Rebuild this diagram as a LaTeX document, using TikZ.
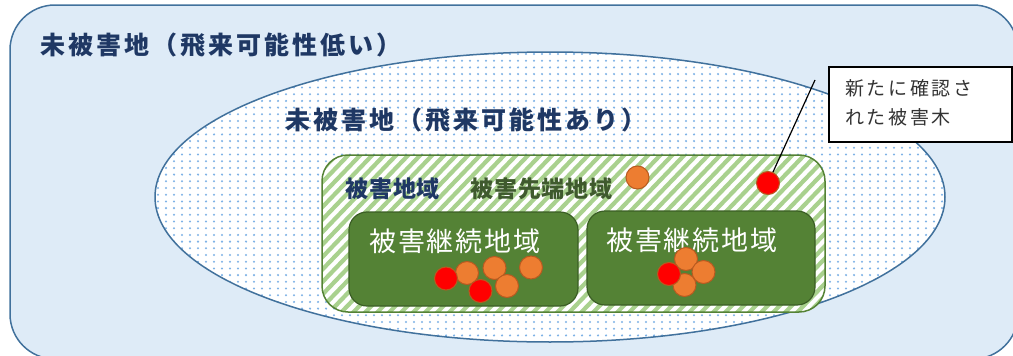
\documentclass[tikz,border=0pt]{standalone}
\usepackage{fontspec}
\newfontfamily\jp{Noto Sans CJK JP}
\definecolor{outerline}{HTML}{41719C}
\definecolor{outerfill}{HTML}{DEEBF7}
\definecolor{dotcol}{HTML}{7EB2E6}
\definecolor{greenline}{HTML}{548235}
\definecolor{hatchcol}{HTML}{A9D18E}
\definecolor{boxfill}{HTML}{548235}
\definecolor{boxline}{HTML}{3B5E25}
\definecolor{navy}{HTML}{1F3864}
\definecolor{darkgreen}{HTML}{3F5A2E}
\definecolor{dotorange}{HTML}{ED7D31}
\definecolor{dotred}{HTML}{FF0000}
\definecolor{dotedge}{HTML}{B85A20}
\definecolor{calltext}{HTML}{333333}
\tikzset{
  lbl/.style={inner sep=0pt, anchor=west, font=\jp},
  title/.style={lbl, font=\jp\bfseries\fontsize{25}{25}\selectfont\addfontfeature{LetterSpace=12}, text=navy},
  areabox/.style={draw=boxline, line width=1.2pt, fill=boxfill, rounded corners=18pt},
  areatext/.style={lbl, font=\jp\fontsize{27}{27}\selectfont\addfontfeature{LetterSpace=7}, text=white},
  calltxt/.style={lbl, font=\jp\fontsize{19}{19}\selectfont\addfontfeature{LetterSpace=14}, text=calltext},
  tree/.style={circle, inner sep=0pt, minimum size=23pt, draw=dotedge, line width=1pt},
  orangedot/.style={tree, fill=dotorange},
  reddot/.style={tree, fill=dotred},
}
\begin{document}
\begin{tikzpicture}[x=1pt,y=-1pt]
\useasboundingbox (0,0) rectangle (1013,356);
\clip (0,0) rectangle (1013,356);
% outer area
\draw[draw=outerline, line width=1.5pt, fill=outerfill, rounded corners=45pt] (10,5) rectangle (1018,359);
% ellipse area with dots
\fill[white] (550,197) ellipse [x radius=395, y radius=145];
\begin{scope}
  \clip (550,197) ellipse [x radius=395, y radius=145];
  \foreach \y in {54.0,60.7,...,345} {
    \fill[dotcol] \foreach \x in {158,166,...,946} {(\x,\y) circle (1.15)};
  }
\end{scope}
\draw[outerline, line width=1.5pt] (550,197) ellipse [x radius=395, y radius=145];
% damaged region (hatched)
\fill[white, rounded corners=26pt] (322,155) rectangle (825,312);
\begin{scope}
  \clip[rounded corners=26pt] (322,155) rectangle (825,312);
  \foreach \s in {0,12,...,672} {
    \draw[hatchcol, line width=4.2pt] (322-170+\s,322) -- (322+\s,145);
  }
\end{scope}
\draw[greenline, line width=1.5pt, rounded corners=26pt] (322,155) rectangle (825,312);
% inner boxes
\draw[areabox] (349,212) rectangle (578,306);
\draw[areabox] (587,211) rectangle (815,305);
% texts
\node[title] (t1) at (40,45) {未被害地（飛来可能性低い）};
\node[title] (t2) at (285,120) {未被害地（飛来可能性あり）};
\node[lbl, font=\jp\bfseries\fontsize{23}{23}\selectfont\addfontfeature{LetterSpace=4}, text=navy] (t3) at (345,189) {被害地域};
\node[lbl, font=\jp\bfseries\fontsize{23}{23}\selectfont\addfontfeature{LetterSpace=4}, text=darkgreen] (t4) at (470,189) {被害先端地域};
\node[areatext] (t5) at (369,241) {被害継続地域};
\node[areatext] (t6) at (606,240) {被害継続地域};
% dots in box 1
\node[orangedot] (o1) at (467,273) {};
\node[orangedot] (o2) at (494.5,268) {};
\node[orangedot] (o3) at (531,267.5) {};
\node[orangedot] (o4) at (507,286) {};
\node[reddot] (r1) at (446,278.5) {};
\node[reddot] (r2) at (480.5,291) {};
% dots in box 2
\node[orangedot] (o5) at (686,259) {};
\node[orangedot] (o6) at (703.5,272) {};
\node[orangedot] (o7) at (684.5,285) {};
\node[reddot] (r3) at (669,274) {};
% dots in front region
\node[orangedot] (o8) at (637.5,177.5) {};
\node[reddot] (r4) at (768,183) {};
% callout
\node[draw=black, line width=1.3pt, fill=white, minimum width=183pt, minimum height=75pt, inner sep=0pt] (cb) at (920.5,104.5) {};
\node[calltxt] (c1) at (845,88) {新たに確認さ};
\node[calltxt] (c2) at (845,117) {れた被害木};
\coordinate (cl) at (815,80);
\draw[black, line width=1.2pt] (cl) -- (r4);
\end{tikzpicture}
\end{document}
